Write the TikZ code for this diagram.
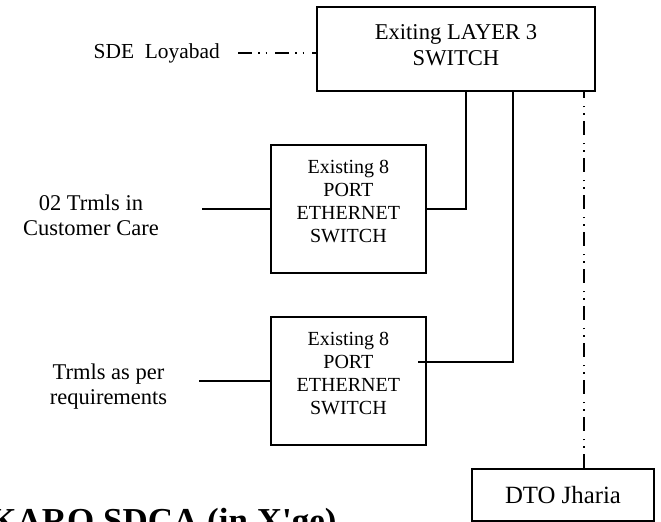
\documentclass[tikz,border=0pt]{standalone}
\usepackage{fontspec}
\setmainfont{Liberation Serif}
\usepackage{tikz}
\usetikzlibrary{positioning}

\begin{document}
\begin{tikzpicture}[
  x=0.5pt, y=-0.5pt,
  box/.style={draw, line width=1pt, inner sep=0pt},
  portsw/.style={box, minimum width=77.65pt, minimum height=64.15pt, align=center,
    font=\fontsize{10}{11.55}\selectfont, text depth=7.6pt},
  wire/.style={line width=1pt},
  dashdot/.style={line width=0.75pt, dash pattern=on 7pt off 3pt on 0.75pt off 3pt on 0.75pt off 4pt},
  lbl/.style={align=center, inner sep=0pt, font=\fontsize{11.25}{12.5}\selectfont}
]
\useasboundingbox (0,0) rectangle (661,522);

\node[box, minimum width=139.3pt, minimum height=41.85pt, align=center,
  font=\fontsize{11.3}{13}\selectfont, text depth=3.25pt] (l3) at (456,48.7) {Exiting LAYER 3\\SWITCH};
\node[portsw] (sw1) at (348.4,209.2) {Existing 8\\PORT\\ETHERNET\\SWITCH};
\node[portsw, below=20.85pt of sw1] (sw2) {Existing 8\\PORT\\ETHERNET\\SWITCH};
\node[box, minimum width=91pt, minimum height=26pt, font=\fontsize{12.4}{14}\selectfont] (dto) at (563,495) {DTO Jharia};

\node[anchor=base west, inner sep=0pt, font=\fontsize{10.7}{12}\selectfont] (sde) at (93.3,58.3) {SDE\ \ Loyabad};
\node[lbl] (cc) at (91,215) {02 Trmls in\\Customer Care};
\node[lbl] (req) at (108.5,387) {Trmls as per\\requirements};
\node[anchor=base west, inner sep=0pt, font=\fontsize{17.5}{20}\selectfont\bfseries] (sdca) at (-11,533) {KARO SDCA (in X\textquotesingle ge)};

\draw[dashdot, shorten <=9pt] (sde.east) -- (sde.east -| l3.west);
\draw[wire] (sw1.east) -| ([xshift=75pt]l3.south west);
\draw[wire] ([xshift=-4.5pt, yshift=9.6pt]sw2.east) -| ([xshift=98.65pt]l3.south west);
\draw[dashdot] ([xshift=10.5pt]dto.north) -- ([xshift=10.5pt]dto.north |- l3.south);
\draw[wire, shorten >=21.6pt] (sw1.west) -- (sw1.west -| cc.east);
\draw[wire, shorten >=15.9pt] (sw2.west) -- (sw2.west -| req.east);
\end{tikzpicture}
\end{document}
